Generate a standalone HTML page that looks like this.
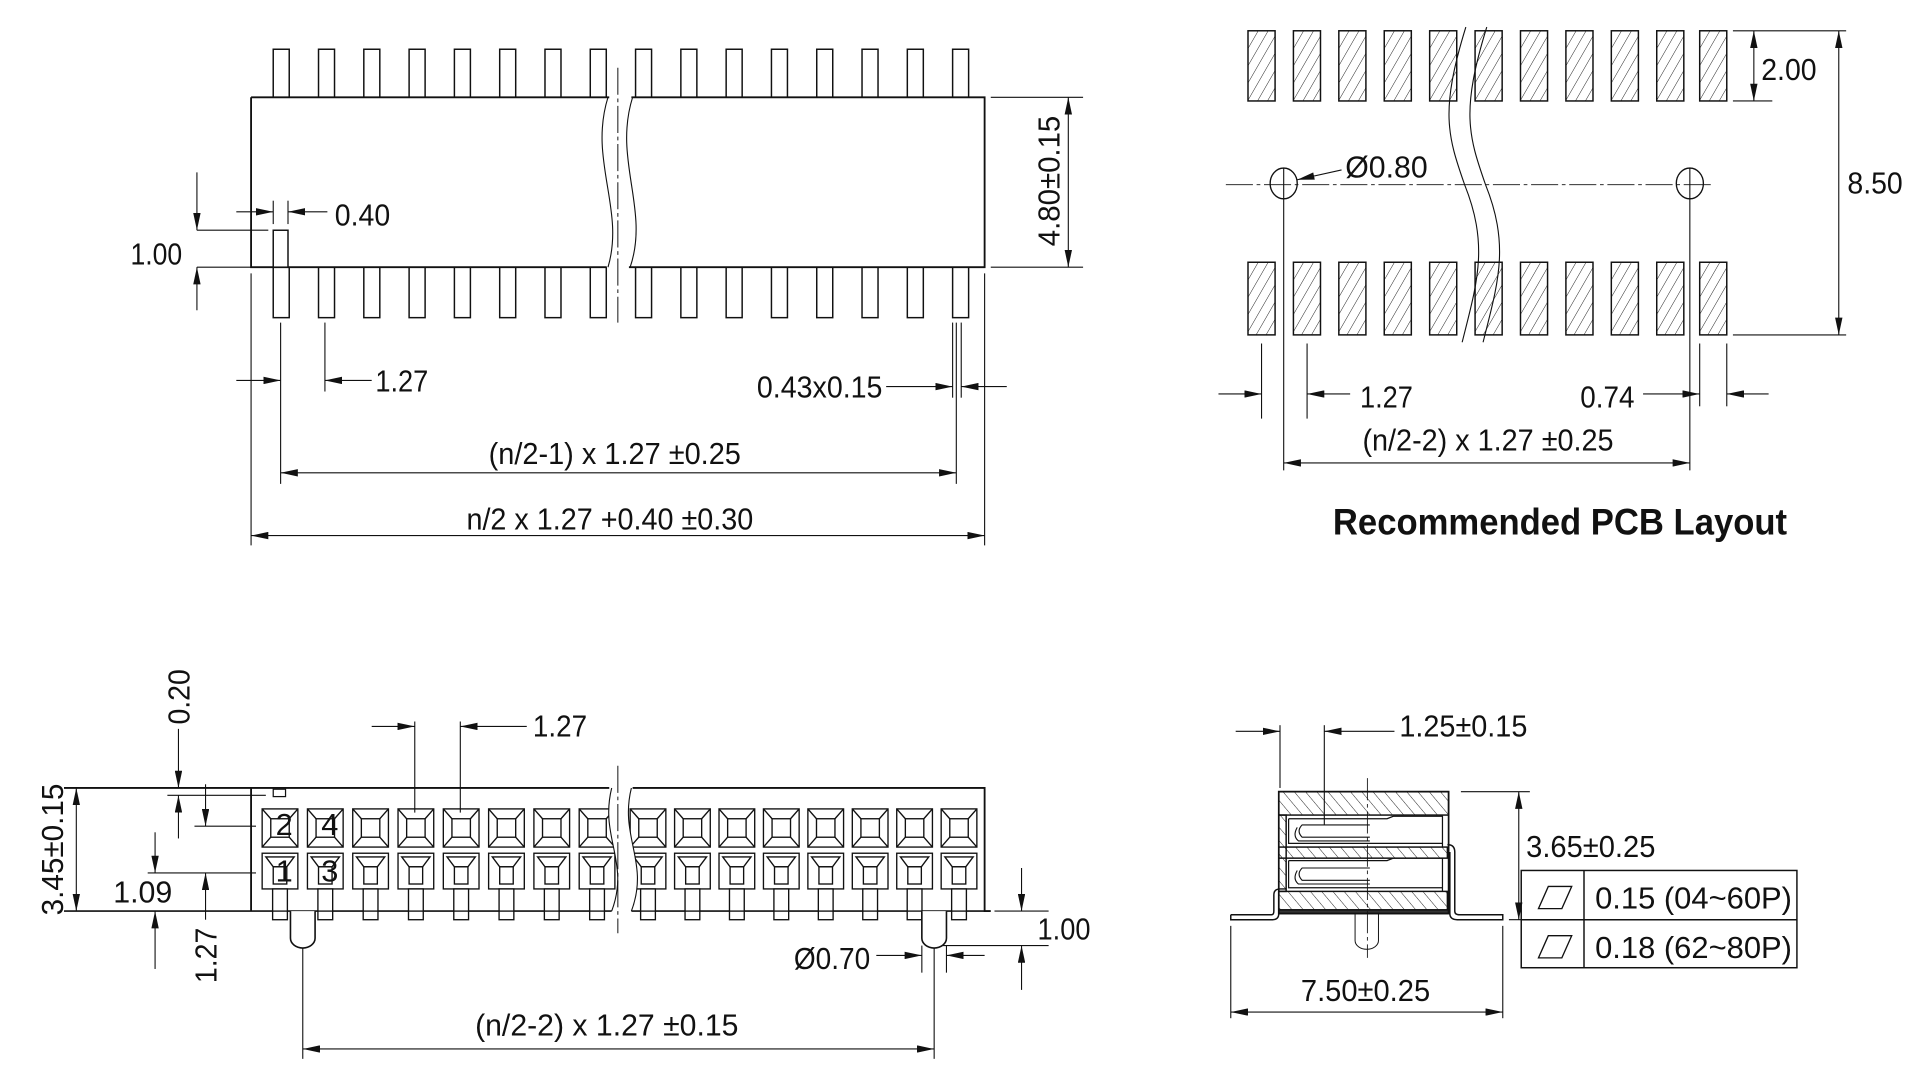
<!DOCTYPE html>
<html><head><meta charset="utf-8"><style>
html,body{margin:0;padding:0;background:#fff;}
svg{display:block;}
text{font-family:"Liberation Sans",sans-serif;font-size:25px;fill:#111;}
</style></head><body>
<svg width="1920" height="1081" viewBox="0 0 1560 878" preserveAspectRatio="none" xmlns="http://www.w3.org/2000/svg">
<defs>
<marker id="a" viewBox="0 0 14 6" refX="14" refY="3" markerWidth="14" markerHeight="6" markerUnits="userSpaceOnUse" orient="auto-start-reverse"><path d="M0,0 L14,3 L0,6 z" fill="#111"/></marker>
<pattern id="h1" width="7" height="7" patternUnits="userSpaceOnUse" patternTransform="rotate(30)"><line x1="0" y1="0" x2="0" y2="7" stroke="#222" stroke-width="0.8"/></pattern>
<pattern id="h2" width="7" height="7" patternUnits="userSpaceOnUse" patternTransform="rotate(-40)"><line x1="0" y1="0" x2="0" y2="7" stroke="#222" stroke-width="0.8"/></pattern>
<rect id="tp" width="13" height="39" fill="#fff" stroke="#111" stroke-width="1.2"/>
<rect id="bp" width="13" height="41" fill="#fff" stroke="#111" stroke-width="1.2"/>
<rect id="pad" width="22" height="57" fill="url(#h1)" stroke="#111" stroke-width="1.2"/>
<rect id="pad2" width="22" height="59" fill="url(#h1)" stroke="#111" stroke-width="1.2"/>
<g id="c1" fill="none" stroke="#111" stroke-width="1.1">
<rect x="0" y="0" width="29" height="31"/><rect x="7" y="8" width="15" height="15"/>
<path d="M0,0 L7,8 M29,0 L22,8 M0,31 L7,23 M29,31 L22,23"/>
</g>
<g id="c2" fill="none" stroke="#111" stroke-width="1.1">
<rect x="0" y="0" width="29" height="29"/><path d="M3,3 L26,3 L20,11 L9,11 z"/><rect x="9" y="11" width="11" height="14"/>
<rect x="8.5" y="29" width="12" height="25" fill="#fff"/><line x1="8.5" y1="47" x2="20.5" y2="47"/>
</g>
</defs>

<g fill="none" stroke="#111" stroke-width="1.2">
<g>
<use href="#tp" x="222" y="40"/><use href="#tp" x="258.8" y="40"/><use href="#tp" x="295.6" y="40"/><use href="#tp" x="332.4" y="40"/><use href="#tp" x="369.2" y="40"/><use href="#tp" x="406" y="40"/><use href="#tp" x="442.8" y="40"/><use href="#tp" x="479.6" y="40"/><use href="#tp" x="516.4" y="40"/><use href="#tp" x="553.2" y="40"/><use href="#tp" x="590" y="40"/><use href="#tp" x="626.8" y="40"/><use href="#tp" x="663.6" y="40"/><use href="#tp" x="700.4" y="40"/><use href="#tp" x="737.2" y="40"/><use href="#tp" x="774" y="40"/>
<use href="#bp" x="222" y="217"/><use href="#bp" x="258.8" y="217"/><use href="#bp" x="295.6" y="217"/><use href="#bp" x="332.4" y="217"/><use href="#bp" x="369.2" y="217"/><use href="#bp" x="406" y="217"/><use href="#bp" x="442.8" y="217"/><use href="#bp" x="479.6" y="217"/><use href="#bp" x="516.4" y="217"/><use href="#bp" x="553.2" y="217"/><use href="#bp" x="590" y="217"/><use href="#bp" x="626.8" y="217"/><use href="#bp" x="663.6" y="217"/><use href="#bp" x="700.4" y="217"/><use href="#bp" x="737.2" y="217"/><use href="#bp" x="774" y="217"/>
</g>
<rect x="204" y="79" width="596" height="138" fill="#fff" stroke="none"/>
<path d="M204,79 H495 M513,79 H800 V217 H511 M493,217 H204 V79" stroke-width="1.5"/>
<path d="M496,79 C480,130 510,170 496,217 L510,217 C526,170 496,130 512,79 z" fill="#fff" stroke="none"/>
<path d="M494,79 C478,130 508,170 494,217 M514,79 C498,130 528,170 512,217" stroke-width="0.9"/>
<line x1="502" y1="55" x2="502" y2="262" stroke-width="0.8" stroke-dasharray="22,3,3,3"/>
<rect x="222" y="187" width="12" height="30" fill="#fff"/>
</g>
<g fill="none" stroke="#111" stroke-width="0.9">
<line x1="222" y1="163" x2="222" y2="182"/><line x1="234" y1="163" x2="234" y2="182"/>
<line x1="192" y1="172" x2="222" y2="172" marker-end="url(#a)"/>
<line x1="266" y1="172" x2="234" y2="172" marker-end="url(#a)"/>
<line x1="160" y1="187" x2="218" y2="187"/><line x1="160" y1="217" x2="204" y2="217"/>
<line x1="160" y1="140" x2="160" y2="187" marker-end="url(#a)"/>
<line x1="160" y1="252" x2="160" y2="217" marker-end="url(#a)"/>
<line x1="805" y1="79" x2="880" y2="79"/><line x1="805" y1="217" x2="880" y2="217"/>
<line x1="868" y1="79" x2="868" y2="217" marker-start="url(#a)" marker-end="url(#a)"/>
<line x1="228" y1="262" x2="228" y2="393"/><line x1="264" y1="262" x2="264" y2="318"/>
<line x1="192" y1="309" x2="228" y2="309" marker-end="url(#a)"/>
<line x1="302" y1="309" x2="264" y2="309" marker-end="url(#a)"/>
<line x1="774" y1="262" x2="774" y2="323"/><line x1="777" y1="262" x2="777" y2="393"/><line x1="781" y1="262" x2="781" y2="323"/>
<line x1="720" y1="314" x2="774" y2="314" marker-end="url(#a)"/>
<line x1="818" y1="314" x2="781" y2="314" marker-end="url(#a)"/>
<line x1="228" y1="384" x2="777" y2="384" marker-start="url(#a)" marker-end="url(#a)"/>
<line x1="204" y1="222" x2="204" y2="443"/><line x1="800" y1="222" x2="800" y2="443"/>
<line x1="204" y1="435" x2="800" y2="435" marker-start="url(#a)" marker-end="url(#a)"/>
</g>
<text x="272" y="183" textLength="45" lengthAdjust="spacingAndGlyphs">0.40</text>
<text x="106" y="215" textLength="42" lengthAdjust="spacingAndGlyphs">1.00</text>
<text transform="translate(861,147) rotate(-90)" text-anchor="middle" textLength="106" lengthAdjust="spacingAndGlyphs">4.80±0.15</text>
<text x="305" y="318" textLength="43" lengthAdjust="spacingAndGlyphs">1.27</text>
<text x="615" y="323" textLength="102" lengthAdjust="spacingAndGlyphs">0.43x0.15</text>
<text x="397" y="377" textLength="205" lengthAdjust="spacingAndGlyphs">(n/2-1) x 1.27 ±0.25</text>
<text x="379" y="430" textLength="233" lengthAdjust="spacingAndGlyphs">n/2 x 1.27 +0.40 ±0.30</text>

<!-- TOP RIGHT PCB -->
<g>
<use href="#pad" x="1014" y="25"/><use href="#pad" x="1050.9" y="25"/><use href="#pad" x="1087.8" y="25"/><use href="#pad" x="1124.7" y="25"/><use href="#pad" x="1161.6" y="25"/><use href="#pad" x="1198.5" y="25"/><use href="#pad" x="1235.4" y="25"/><use href="#pad" x="1272.3" y="25"/><use href="#pad" x="1309.2" y="25"/><use href="#pad" x="1346.1" y="25"/><use href="#pad" x="1381" y="25"/>
<use href="#pad2" x="1014" y="213"/><use href="#pad2" x="1050.9" y="213"/><use href="#pad2" x="1087.8" y="213"/><use href="#pad2" x="1124.7" y="213"/><use href="#pad2" x="1161.6" y="213"/><use href="#pad2" x="1198.5" y="213"/><use href="#pad2" x="1235.4" y="213"/><use href="#pad2" x="1272.3" y="213"/><use href="#pad2" x="1309.2" y="213"/><use href="#pad2" x="1346.1" y="213"/><use href="#pad2" x="1381" y="213"/>
</g>
<g fill="none" stroke="#111" stroke-width="0.9">
<path d="M1191,22 C1170,90 1176,110 1190,150 C1210,200 1200,230 1188,278"/>
<path d="M1208,22 C1187,90 1193,110 1207,150 C1227,200 1217,230 1205,278"/>
<line x1="996" y1="150" x2="1392" y2="150" stroke-width="0.8" stroke-dasharray="22,3,3,3"/>
<ellipse cx="1043" cy="149" rx="11" ry="12.5" stroke-width="1.1"/>
<ellipse cx="1373" cy="149" rx="11" ry="12.5" stroke-width="1.1"/>
<line x1="1090" y1="138" x2="1054" y2="146" marker-end="url(#a)"/>
<line x1="1043" y1="136" x2="1043" y2="382"/><line x1="1373" y1="136" x2="1373" y2="382"/>
<line x1="1043" y1="376" x2="1373" y2="376" marker-start="url(#a)" marker-end="url(#a)"/>
<line x1="1025" y1="279" x2="1025" y2="340"/><line x1="1062" y1="279" x2="1062" y2="340"/>
<line x1="990" y1="320" x2="1025" y2="320" marker-end="url(#a)"/>
<line x1="1097" y1="320" x2="1062" y2="320" marker-end="url(#a)"/>
<line x1="1381" y1="279" x2="1381" y2="330"/><line x1="1403" y1="279" x2="1403" y2="330"/>
<line x1="1335" y1="320" x2="1381" y2="320" marker-end="url(#a)"/>
<line x1="1437" y1="320" x2="1403" y2="320" marker-end="url(#a)"/>
<line x1="1408" y1="25" x2="1500" y2="25"/><line x1="1408" y1="82" x2="1440" y2="82"/><line x1="1408" y1="272" x2="1500" y2="272"/>
<line x1="1425" y1="25" x2="1425" y2="82" marker-start="url(#a)" marker-end="url(#a)"/>
<line x1="1494" y1="25" x2="1494" y2="272" marker-start="url(#a)" marker-end="url(#a)"/>
</g>
<text x="1431" y="65" textLength="45" lengthAdjust="spacingAndGlyphs">2.00</text>
<text x="1093" y="144" textLength="67" lengthAdjust="spacingAndGlyphs">Ø0.80</text>
<text x="1501" y="157" textLength="45" lengthAdjust="spacingAndGlyphs">8.50</text>
<text x="1105" y="331" textLength="43" lengthAdjust="spacingAndGlyphs">1.27</text>
<text x="1284" y="331" textLength="44" lengthAdjust="spacingAndGlyphs">0.74</text>
<text x="1107" y="366" textLength="204" lengthAdjust="spacingAndGlyphs">(n/2-2) x 1.27 ±0.25</text>
<text x="1083" y="434" style="font-weight:bold;font-size:30px" textLength="369" lengthAdjust="spacingAndGlyphs">Recommended PCB Layout</text>

<!-- BOTTOM LEFT -->
<g>
<use href="#c1" x="213" y="657"/><use href="#c1" x="249.8" y="657"/><use href="#c1" x="286.6" y="657"/><use href="#c1" x="323.4" y="657"/><use href="#c1" x="360.2" y="657"/><use href="#c1" x="397" y="657"/><use href="#c1" x="433.8" y="657"/><use href="#c1" x="470.6" y="657"/><use href="#c1" x="512" y="657"/><use href="#c1" x="548.1" y="657"/><use href="#c1" x="584.2" y="657"/><use href="#c1" x="620.3" y="657"/><use href="#c1" x="656.4" y="657"/><use href="#c1" x="692.5" y="657"/><use href="#c1" x="728.6" y="657"/><use href="#c1" x="764.7" y="657"/>
<use href="#c2" x="213" y="693"/><use href="#c2" x="249.8" y="693"/><use href="#c2" x="286.6" y="693"/><use href="#c2" x="323.4" y="693"/><use href="#c2" x="360.2" y="693"/><use href="#c2" x="397" y="693"/><use href="#c2" x="433.8" y="693"/><use href="#c2" x="470.6" y="693"/><use href="#c2" x="512" y="693"/><use href="#c2" x="548.1" y="693"/><use href="#c2" x="584.2" y="693"/><use href="#c2" x="620.3" y="693"/><use href="#c2" x="656.4" y="693"/><use href="#c2" x="692.5" y="693"/><use href="#c2" x="728.6" y="693"/><use href="#c2" x="764.7" y="693"/>
</g>
<g fill="none" stroke="#111" stroke-width="1.3">
<path d="M52,640 H495 M514,640 H800 V740 H805 M204,640 V740" stroke-width="1.5"/>
<path d="M52,740 H221.5 M233.5,740 H258.3 M270.3,740 H295.1 M307.1,740 H331.9 M343.9,740 H368.7 M380.7,740 H405.5 M417.5,740 H442.3 M454.3,740 H479.1 M491.1,740 H497 M513,740 H520.5 M532.5,740 H556.6 M568.6,740 H592.7 M604.7,740 H628.8 M640.8,740 H664.9 M676.9,740 H701 M713,740 H737.1 M749.1,740 H773.2 M785.2,740 H800"/>
<rect x="222" y="641" width="10" height="6" stroke-width="1"/>
<path d="M497,640 C487,680 512,700 497,740 L513,740 C528,700 503,680 513,640 z" fill="#fff" stroke="none"/>
<path d="M497,640 C487,680 512,700 497,740 M513,640 C503,680 528,700 513,740" stroke-width="0.9"/>
<line x1="502" y1="622" x2="502" y2="758" stroke-width="0.8" stroke-dasharray="22,3,3,3"/>
<path d="M236,740 V762 A10,8 0 0 0 256,762 V740" fill="#fff"/>
<path d="M749,740 V762 A10,8 0 0 0 769,762 V740" fill="#fff"/>
</g>
<g style="font-size:12px">
<text x="224" y="678">2</text><text x="261" y="678">4</text><text x="224" y="716">1</text><text x="261" y="716">3</text>
</g>
<g fill="none" stroke="#111" stroke-width="0.9">
<line x1="62" y1="640" x2="62" y2="740" marker-start="url(#a)" marker-end="url(#a)"/>
<line x1="120" y1="709" x2="208" y2="709"/>
<line x1="126" y1="676" x2="126" y2="709" marker-end="url(#a)"/>
<line x1="126" y1="787" x2="126" y2="740" marker-end="url(#a)"/>
<line x1="158" y1="671" x2="208" y2="671"/>
<line x1="167" y1="637" x2="167" y2="671" marker-end="url(#a)"/>
<line x1="167" y1="747" x2="167" y2="709" marker-end="url(#a)"/>
<line x1="136" y1="646" x2="216" y2="646"/>
<line x1="145" y1="592" x2="145" y2="640" marker-end="url(#a)"/>
<line x1="145" y1="681" x2="145" y2="646" marker-end="url(#a)"/>
<line x1="337" y1="586" x2="337" y2="660"/><line x1="374" y1="586" x2="374" y2="660"/>
<line x1="302" y1="590" x2="337" y2="590" marker-end="url(#a)"/>
<line x1="428" y1="590" x2="374" y2="590" marker-end="url(#a)"/>
<line x1="808" y1="740" x2="852" y2="740"/><line x1="765" y1="768" x2="852" y2="768"/>
<line x1="830" y1="705" x2="830" y2="740" marker-end="url(#a)"/>
<line x1="830" y1="804" x2="830" y2="768" marker-end="url(#a)"/>
<line x1="749" y1="768" x2="749" y2="790"/><line x1="769" y1="768" x2="769" y2="790"/>
<line x1="712" y1="776" x2="749" y2="776" marker-end="url(#a)"/>
<line x1="800" y1="776" x2="769" y2="776" marker-end="url(#a)"/>
<line x1="246" y1="770" x2="246" y2="860"/><line x1="759" y1="770" x2="759" y2="860"/>
<line x1="246" y1="852" x2="759" y2="852" marker-start="url(#a)" marker-end="url(#a)"/>
</g>
<text transform="translate(51,690) rotate(-90)" text-anchor="middle" textLength="107" lengthAdjust="spacingAndGlyphs">3.45±0.15</text>
<text transform="translate(154,566) rotate(-90)" text-anchor="middle" textLength="45" lengthAdjust="spacingAndGlyphs">0.20</text>
<text transform="translate(176,776) rotate(-90)" text-anchor="middle" textLength="45" lengthAdjust="spacingAndGlyphs">1.27</text>
<text x="92" y="733" textLength="48" lengthAdjust="spacingAndGlyphs">1.09</text>
<text x="433" y="598" textLength="44" lengthAdjust="spacingAndGlyphs">1.27</text>
<text x="843" y="763" textLength="43" lengthAdjust="spacingAndGlyphs">1.00</text>
<text x="645" y="787" textLength="62" lengthAdjust="spacingAndGlyphs">Ø0.70</text>
<text x="386" y="841" textLength="214" lengthAdjust="spacingAndGlyphs">(n/2-2) x 1.27 ±0.15</text>

<!-- BOTTOM RIGHT SIDE VIEW -->
<g fill="none" stroke="#111" stroke-width="1.2">
<rect x="1039" y="643" width="138" height="19" fill="url(#h2)"/>
<rect x="1039" y="688" width="137" height="9" fill="url(#h2)"/>
<rect x="1039" y="724" width="137" height="15" fill="url(#h2)"/>
<rect x="1039" y="662" width="6" height="62" fill="url(#h2)"/>
<rect x="1039" y="739" width="138" height="3" fill="#333"/>
<rect x="1039" y="643" width="138" height="99" stroke-width="1.4"/>
<path d="M1047,665 H1127 L1132,663 H1172 V688 M1047,665 V685 H1172" stroke-width="1"/>
<path d="M1047,699 H1127 L1132,697 H1172 V724 M1047,699 V721 H1172" stroke-width="1"/>
<path d="M1113,670 H1058 Q1053,675 1058,680 H1113 M1113,683 H1055 Q1050,679 1054,672" stroke-width="0.9"/>
<path d="M1113,705 H1058 Q1053,710 1058,715 H1113 M1113,718 H1055 Q1050,714 1054,707" stroke-width="0.9"/>
<path d="M1000,743 H1033 Q1035,743 1035,740 V727 Q1035,722 1040,722 H1045 M1000,743 V747 H1034 Q1039,747 1039,742 V730" stroke-width="1.2"/>
<path d="M1176,686 Q1182,686 1182,692 V740 Q1182,743 1186,743 H1221 V747 H1184 Q1178,747 1178,742 V692" stroke-width="1.2"/>
<path d="M1101,742 V764 A9.5,7 0 0 0 1120,764 V742" stroke-width="0.8"/>
<line x1="1111" y1="632" x2="1111" y2="778" stroke-width="0.7" stroke-dasharray="18,3,3,3"/>
</g>
<g fill="none" stroke="#111" stroke-width="0.9">
<line x1="1040" y1="589" x2="1040" y2="640"/><line x1="1076" y1="589" x2="1076" y2="670"/>
<line x1="1004" y1="594" x2="1040" y2="594" marker-end="url(#a)"/>
<line x1="1133" y1="594" x2="1076" y2="594" marker-end="url(#a)"/>
<line x1="1187" y1="643" x2="1243" y2="643"/><line x1="1226" y1="747" x2="1241" y2="747"/>
<line x1="1234" y1="643" x2="1234" y2="747" marker-start="url(#a)" marker-end="url(#a)"/>
<line x1="1000" y1="752" x2="1000" y2="827"/><line x1="1221" y1="752" x2="1221" y2="827"/>
<line x1="1000" y1="822" x2="1221" y2="822" marker-start="url(#a)" marker-end="url(#a)"/>
<rect x="1236" y="707" width="224" height="79" stroke-width="1.2"/>
<line x1="1236" y1="747" x2="1460" y2="747" stroke-width="1.2"/>
<line x1="1287" y1="707" x2="1287" y2="786" stroke-width="1.2"/>
<path d="M1250,738 L1258,720 H1277 L1269,738 z" stroke-width="1.1"/>
<path d="M1250,778 L1258,760 H1277 L1269,778 z" stroke-width="1.1"/>
</g>
<text x="1137" y="598" textLength="104" lengthAdjust="spacingAndGlyphs">1.25±0.15</text>
<text x="1240" y="696" textLength="105" lengthAdjust="spacingAndGlyphs">3.65±0.25</text>
<text x="1296" y="738" textLength="160" lengthAdjust="spacingAndGlyphs">0.15 (04~60P)</text>
<text x="1296" y="778" textLength="160" lengthAdjust="spacingAndGlyphs">0.18 (62~80P)</text>
<text x="1057" y="813" textLength="105" lengthAdjust="spacingAndGlyphs">7.50±0.25</text>
</svg>
</body></html>
